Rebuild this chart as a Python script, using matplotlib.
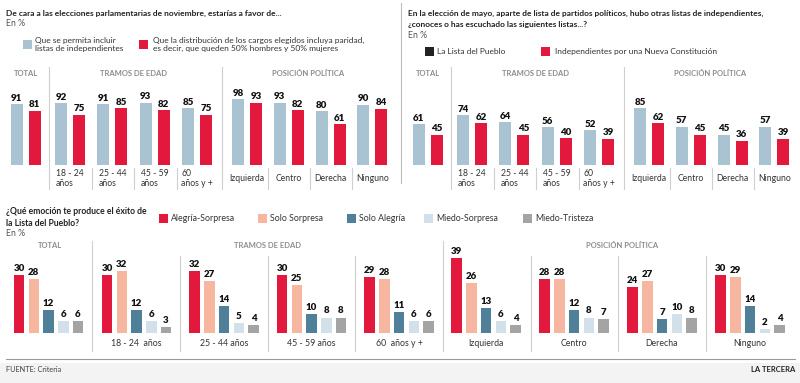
import matplotlib
matplotlib.use("Agg")
import matplotlib.pyplot as plt
from matplotlib.patches import Rectangle

plt.rcParams["font.family"] = ["Lato", "DejaVu Sans"]

W, H = 800, 383

# data
top_groups = ["TOTAL", "18 - 24\naños", "25 - 44\naños", "45 - 59\naños", "60\naños y +",
              "Izquierda", "Centro", "Derecha", "Ninguno"]
favor_independientes = [91, 92, 91, 93, 85, 98, 93, 80, 90]
favor_paridad = [81, 75, 85, 82, 75, 93, 82, 61, 84]
conoce_lista_pueblo = [61, 74, 64, 56, 52, 85, 57, 45, 57]
conoce_independientes_nc = [45, 62, 45, 40, 39, 62, 45, 36, 39]

bottom_groups = ["", "18 - 24  años", "25 - 44 años", "45 - 59 años", "60  años y +",
                 "Izquierda", "Centro", "Derecha", "Ninguno"]
emotions = ["Alegría-Sorpresa", "Solo Sorpresa", "Solo Alegría", "Miedo-Sorpresa", "Miedo-Tristeza"]
alegria_sorpresa = [30, 30, 32, 30, 29, 39, 28, 24, 30]
solo_sorpresa = [28, 32, 27, 25, 28, 26, 28, 27, 29]
solo_alegria = [12, 12, 14, 10, 11, 13, 12, 7, 14]
miedo_sorpresa = [6, 6, 5, 8, 6, 6, 8, 10, 2]
miedo_tristeza = [6, 3, 4, 8, 6, 4, 7, 8, 4]

# colours
LBLUE = "#a9c3d3"
RED = "#e2193c"
SALMON = "#f7b6a0"
STEEL = "#4f7f99"
PALE = "#d2e0ea"
GREY = "#a4a4a4"
HEAD = "#8c8c8c"
SEP = "#cfcfcf"
emo_colors = [RED, SALMON, STEEL, PALE, GREY]

fig = plt.figure(figsize=(W / 100, H / 100), dpi=100)
fig.patch.set_facecolor("white")

# overlay in pixel coords for text / rules
ov = fig.add_axes([0, 0, 1, 1])
ov.set_xlim(0, W)
ov.set_ylim(H, 0)
ov.axis("off")


def bar_axes(baseline, px_per_unit, ymax):
    # axes spanning full width, x in pixels, y in data units
    h = px_per_unit * ymax
    ax = fig.add_axes([0, (H - baseline) / H, 1, h / H])
    ax.set_xlim(0, W)
    ax.set_ylim(0, ymax)
    ax.axis("off")
    return ax


def top_centers(x0):
    c = [x0 + 25.5]
    c += [x0 + 70 + 42.4 * i for i in range(4)]
    c += [x0 + 247 + 41.8 * i for i in range(4)]
    return c


def top_panel(x0, s1, s2, title_lines, legend1, legend2, sq1_color, leg_y):
    ax = bar_axes(165, 0.67, 100)
    centers = top_centers(x0)
    for vals, off, col in [(s1, -9, LBLUE), (s2, 9, RED)]:
        xs = [c + off for c in centers]
        bars = ax.bar(xs, vals, width=12, color=col, linewidth=0)
        for b, v in zip(bars, vals):
            ax.annotate(str(v), (b.get_x() + b.get_width() / 2, v), xytext=(0, 1),
                        textcoords="offset points", ha="center", va="bottom",
                        fontsize=7, fontweight="heavy", color="#111111", clip_on=False)
    # titles
    for i, line in enumerate(title_lines):
        ov.text(x0 + 6, 13 + 12 * i, line, fontsize=6.0, fontweight="bold",
                color="#222222", va="center", ha="left")
    ov.text(x0 + 6, 13 + 12 * len(title_lines) - 1, "En %", fontsize=6.3, color="#555555",
            va="center", ha="left")
    # legend
    ov.add_patch(Rectangle((x0 + 23, leg_y - 4.5), 9, 9, color=sq1_color, lw=0))
    ov.text(x0 + 35, leg_y, legend1, fontsize=6, color="#333333", va="center",
            ha="left", linespacing=1.25)
    ov.add_patch(Rectangle((x0 + 139, leg_y - 4.5), 9, 9, color=RED, lw=0))
    ov.text(x0 + 153, leg_y, legend2, fontsize=6, color="#333333", va="center",
            ha="left", linespacing=1.25)
    # headers
    ov.text(x0 + 26, 73, "TOTAL", fontsize=5.5, fontweight="bold", color=HEAD,
            ha="center", va="center")
    ov.text(x0 + 133, 73, "TRAMOS DE EDAD", fontsize=5.5, fontweight="bold", color=HEAD,
            ha="center", va="center")
    ov.text(x0 + 308, 73, "POSICIÓN POLÍTICA", fontsize=5.5, fontweight="bold", color=HEAD,
            ha="center", va="center")
    # separators
    for xs in [48.5, 222]:
        ov.plot([x0 + xs, x0 + xs], [67, 189], color=SEP, lw=0.8)
    for xs in [91.5, 134, 176.5, 268, 310, 352]:
        ov.plot([x0 + xs, x0 + xs], [168, 189], color=SEP, lw=0.8)
    # category labels
    for c, lab in zip(centers[1:], top_groups[1:]):
        ov.text(c, 178.5, lab, fontsize=6.2, color="#333333", ha="center", va="center",
                multialignment="left", linespacing=1.2)


top_panel(0, favor_independientes, favor_paridad,
          ["De cara a las elecciones parlamentarias de noviembre, estarías a favor de..."],
          "Que se permita incluir\nlistas de independientes",
          "Que la distribución de los cargos elegidos incluya paridad,\nes decir, que queden 50% hombres y 50% mujeres",
          LBLUE, 44.5)
top_panel(402, conoce_lista_pueblo, conoce_independientes_nc,
          ["En la elección de mayo, aparte de lista de partidos políticos, hubo otras listas de independientes,",
           "¿conoces o has escuchado las siguientes listas...?"],
          "La Lista del Pueblo", "Independientes por una Nueva Constitución",
          "#222222", 51.5)

# divider between top panels
ov.plot([401, 401], [3, 183], color="#bbbbbb", lw=0.8)

# bottom panel
axb = bar_axes(333, 1.93, 40)
centers_b = [48.5] + [136.5 + 87.5 * i for i in range(4)] + [486 + 88 * i for i in range(4)]
series = [alegria_sorpresa, solo_sorpresa, solo_alegria, miedo_sorpresa, miedo_tristeza]
for k, (vals, col) in enumerate(zip(series, emo_colors)):
    xs = [c + (k - 2) * 14.75 for c in centers_b]
    bars = axb.bar(xs, vals, width=10.5, color=col, linewidth=0)
    for b, v in zip(bars, vals):
        axb.annotate(str(v), (b.get_x() + b.get_width() / 2, v), xytext=(0, 1.5),
                     textcoords="offset points", ha="center", va="bottom",
                     fontsize=7, fontweight="heavy", color="#111111", clip_on=False)

ov.text(6, 211, "¿Qué emoción te produce el éxito de", fontsize=6.2, fontweight="bold",
        color="#222222", va="center")
ov.text(6, 223, "la Lista del Pueblo?", fontsize=6.2, fontweight="bold",
        color="#222222", va="center")
ov.text(6, 234, "En %", fontsize=6.3, color="#555555", va="center")

for sx, lab, col in zip([159, 258, 347, 424, 523], emotions, emo_colors):
    ov.add_patch(Rectangle((sx, 214), 9, 9, color=col, lw=0))
    ov.text(sx + 12, 218.5, lab, fontsize=6.3, color="#333333", va="center")

ov.text(50, 245.5, "TOTAL", fontsize=5.5, fontweight="bold", color=HEAD, ha="center", va="center")
ov.text(268, 245.5, "TRAMOS DE EDAD", fontsize=5.5, fontweight="bold", color=HEAD,
        ha="center", va="center")
ov.text(622, 245.5, "POSICIÓN POLÍTICA", fontsize=5.5, fontweight="bold", color=HEAD,
        ha="center", va="center")
for xs in [92, 443]:
    ov.plot([xs, xs], [241, 351], color=SEP, lw=0.8)
for xs in [180, 268, 355, 531, 618, 706]:
    ov.plot([xs, xs], [256, 351], color=SEP, lw=0.8)
for c, lab in zip(centers_b[1:], bottom_groups[1:]):
    ov.text(c, 343.5, lab, fontsize=6.3, color="#333333", ha="center", va="center")

# footer
ov.add_patch(Rectangle((0, 363), W, 20, color="#f3f3f3", lw=0))
ov.plot([6, 795], [359, 359], color="#9a9a9a", lw=0.8)
ov.text(6, 370, "FUENTE: Criteria", fontsize=5.3, color="#444444", va="center")
ov.text(795, 370, "LA TERCERA", fontsize=5.5, fontweight="bold", color="#222222",
        va="center", ha="right")

fig.savefig("out.png", dpi=100, facecolor="white")
